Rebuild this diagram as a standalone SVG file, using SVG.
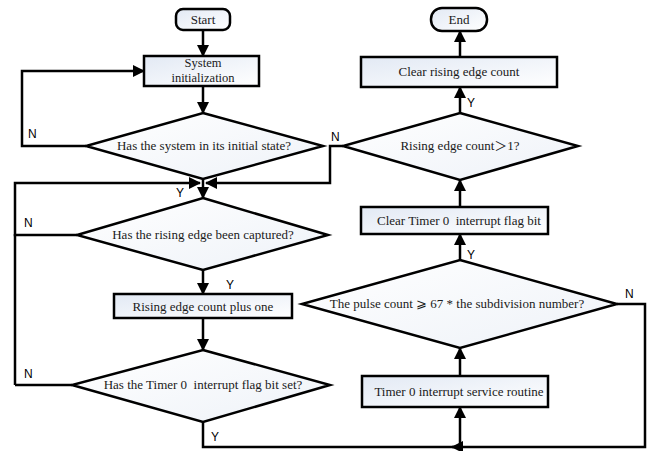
<svg xmlns="http://www.w3.org/2000/svg" width="653" height="451" viewBox="0 0 653 451">
<style>
.box{fill:url(#g);stroke:#000;stroke-width:2.5}
.dia{fill:url(#g2);stroke:#000;stroke-width:2.5}
.t{font-family:"Liberation Serif","Times New Roman",serif;font-size:13px;fill:#1a1a1a;text-anchor:middle;white-space:pre}
.sym{font-family:"Liberation Serif","DejaVu Serif","Noto Sans CJK SC",serif}
.l{font-family:"Liberation Sans",Arial,sans-serif;font-size:12px;fill:#000}
.c{fill:none;stroke:#000;stroke-width:2.5}
.a{marker-end:url(#ah)}
</style>
<defs>
<linearGradient id="g" x1="0" y1="0" x2="1" y2="1">
<stop offset="0" stop-color="#e2e9f4"/><stop offset="1" stop-color="#ffffff"/>
</linearGradient>
<linearGradient id="g2" x1="0" y1="0" x2="1" y2="1">
<stop offset="0" stop-color="#ffffff"/><stop offset="1" stop-color="#eef2f8"/>
</linearGradient>
<marker id="ah" markerUnits="userSpaceOnUse" markerWidth="12" markerHeight="12" refX="11" refY="6" orient="auto">
<path d="M0,0 L12,6 L0,12 z" fill="#000"/>
</marker>
</defs>

<g id="connectors">
<line class="c a" x1="203" y1="30" x2="203" y2="56"/>
<line class="c a" x1="203" y1="86" x2="203" y2="113"/>
<polyline class="c a" points="86,146 22,146 22,71 144,71"/>
<line class="c a" x1="203" y1="179" x2="203" y2="198"/>
<polyline class="c a" points="77,235 15,235 15,183 200,183"/>
<line class="c" x1="72" y1="385" x2="15" y2="385"/>
<line class="c" x1="15" y1="385" x2="15" y2="234"/>
<polyline class="c a" points="343,146 330,146 330,183 206,183"/>
<line class="c a" x1="203" y1="270" x2="203" y2="294"/>
<line class="c a" x1="203" y1="318" x2="203" y2="350"/>
<polyline class="c a" points="203,422 203,447 460,447 460,407"/>
<polyline class="c a" points="617,304 645,304 645,447 452,447"/>
<line class="c a" x1="460" y1="376" x2="460" y2="348"/>
<line class="c a" x1="460" y1="260" x2="460" y2="234"/>
<line class="c a" x1="460" y1="207" x2="460" y2="180"/>
<line class="c a" x1="460" y1="113" x2="460" y2="87"/>
<line class="c a" x1="460" y1="57" x2="460" y2="31"/>
<text class="l" x="28" y="138">N</text>
<text class="l" x="24" y="227">N</text>
<text class="l" x="24" y="378">N</text>
<text class="l" x="176" y="197">Y</text>
<text class="l" x="226" y="289">Y</text>
<text class="l" x="211" y="441">Y</text>
<text class="l" x="331" y="141">N</text>
<text class="l" x="467" y="107">Y</text>
<text class="l" x="467" y="259">Y</text>
<text class="l" x="625" y="298">N</text>
</g>

<g id="start">
<rect x="176" y="9" width="54" height="21" rx="7" class="box"/>
<text class="t" x="203" y="24">Start</text>
</g>
<g id="init">
<rect x="144" y="56" width="115" height="30" class="box"/>
<text class="t" x="203" y="67" style="font-size:12.5px">System</text>
<text class="t" x="203" y="82" style="font-size:12.5px">initialization</text>
</g>
<g id="check-init">
<polygon points="203,113 323,146 203,179 86,146" class="dia"/>
<text class="t" x="204" y="150">Has the system in its initial state?</text>
</g>
<g id="check-edge">
<polygon points="203,198 328,235 203,270 77,235" class="dia"/>
<text class="t" x="203" y="239">Has the rising edge been captured?</text>
</g>
<g id="count-plus">
<rect x="114" y="294" width="178" height="24" class="box"/>
<text class="t" x="203" y="311">Rising edge count plus one</text>
</g>
<g id="check-timer">
<polygon points="203,350 330,385 203,422 72,385" class="dia"/>
<text class="t" x="203" y="389">Has the Timer 0  interrupt flag bit set?</text>
</g>
<g id="isr">
<rect x="362" y="376" width="186" height="31" class="box"/>
<text class="t" x="459" y="396">Timer 0 interrupt service routine</text>
</g>
<g id="check-pulse">
<polygon points="460,260 617,304 460,348 302,304" class="dia"/>
<text class="t" x="457" y="308">The pulse count <tspan class="sym">⩾</tspan> 67 * the subdivision number?</text>
</g>
<g id="clear-flag">
<rect x="361" y="207" width="187" height="27" class="box"/>
<text class="t" x="459" y="225">Clear Timer 0  interrupt flag bit</text>
</g>
<g id="check-count">
<polygon points="460,113 578,146 460,180 343,146" class="dia"/>
<text class="t" x="460" y="150">Rising edge count<tspan class="sym">＞</tspan>1?</text>
</g>
<g id="clear-count">
<rect x="361" y="57" width="196" height="30" class="box"/>
<text class="t" x="459" y="76">Clear rising edge count</text>
</g>
<g id="end">
<rect x="431" y="8" width="56" height="23" rx="11" class="box"/>
<text class="t" x="459" y="24">End</text>
</g>
</svg>
